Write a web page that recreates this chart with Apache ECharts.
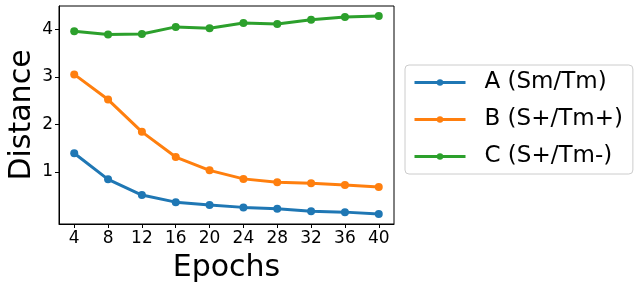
<!DOCTYPE html>
<html>
<head>
<meta charset="utf-8">
<script src="https://cdn.jsdelivr.net/npm/echarts@6/dist/echarts.min.js"></script>
<style>html,body{margin:0;padding:0;background:#fff;}#c{width:642px;height:289px;}</style>
</head>
<body>
<div id="c"></div>
<script>
const epochs = [4, 8, 12, 16, 20, 24, 28, 32, 36, 40];
const seriesA = [1.39, 0.84, 0.51, 0.36, 0.30, 0.25, 0.22, 0.17, 0.15, 0.11];
const seriesB = [3.05, 2.52, 1.84, 1.31, 1.03, 0.85, 0.78, 0.76, 0.72, 0.68];
const seriesC = [3.96, 3.89, 3.90, 4.05, 4.02, 4.13, 4.11, 4.20, 4.26, 4.28];
const names = ['A (Sm/Tm)', 'B (S+/Tm+)', 'C (S+/Tm-)'];
const colors = ['#1f77b4', '#ff7f0e', '#2ca02c'];
const yTicks = [1, 2, 3, 4];

const font = 'DejaVu Sans';
const chart = echarts.init(document.getElementById('c'), null, {renderer: 'canvas'});
const mk = (name, vals, color) => ({
  name: name,
  type: 'line',
  data: epochs.map((e, i) => [e, vals[i]]),
  symbol: 'circle',
  symbolSize: 8,
  lineStyle: {width: 3, color: color},
  itemStyle: {color: color},
  emphasis: {disabled: true},
  animation: false
});
chart.setOption({
  animation: false,
  textStyle: {fontFamily: font},
  grid: {left: 59, top: 6, width: 335, height: 218, show: true, borderColor: '#000', borderWidth: 1, containLabel: false, outerBoundsMode: 'none'},
  xAxis: {
    type: 'value', min: 2.2, max: 41.8,
    name: 'Epochs', nameLocation: 'middle', nameGap: 29, nameMoveOverlap: false,
    nameTextStyle: {fontSize: 30, color: '#000', fontFamily: font},
    axisLine: {show: true, onZero: false, lineStyle: {color: '#000', width: 1}},
    axisTick: {show: true, length: 4, lineStyle: {color: '#000'}, customValues: epochs},
    axisLabel: {fontSize: 17, color: '#000', margin: 6, customValues: epochs, fontFamily: font},
    splitLine: {show: false}
  },
  yAxis: {
    type: 'value', min: -0.1, max: 4.49,
    name: 'Distance', nameLocation: 'middle', nameGap: 22, nameMoveOverlap: false,
    nameTextStyle: {fontSize: 30, color: '#000', fontFamily: font},
    axisLine: {show: true, onZero: false, lineStyle: {color: '#000', width: 1}},
    axisTick: {show: true, length: 4, lineStyle: {color: '#000'}, customValues: yTicks},
    axisLabel: {fontSize: 17, color: '#000', margin: 6, customValues: yTicks, fontFamily: font},
    splitLine: {show: false}
  },
  legend: {
    orient: 'vertical', left: 405, top: 65,
    data: names,
    itemWidth: 51, itemHeight: 8, itemGap: 10,
    padding: [4, 10, 4, 8],
    borderColor: '#ccc', borderWidth: 1, borderRadius: 4,
    lineStyle: {width: 3},
    textStyle: {fontSize: 23, color: '#000', fontFamily: font, padding: [0, 0, 0, 14], lineHeight: 27},
    selectedMode: false
  },
  series: [mk(names[0], seriesA, colors[0]), mk(names[1], seriesB, colors[1]), mk(names[2], seriesC, colors[2])]
});
</script>
</body>
</html>
